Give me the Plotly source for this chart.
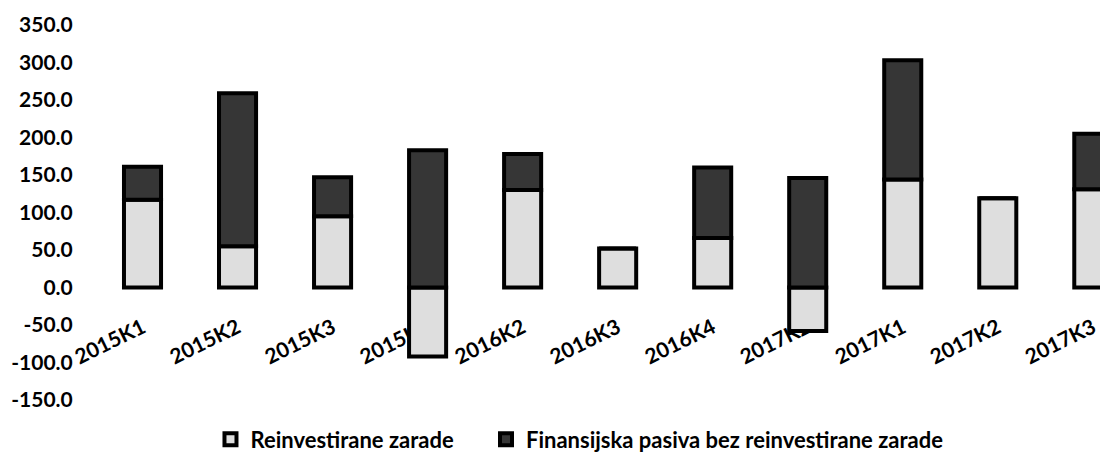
import plotly.graph_objects as go

# kvartali (redosled i oznake kao na originalnom grafikonu)
kvartali = ["2015K1", "2015K2", "2015K3", "2015K4", "2016K2", "2016K3",
            "2016K4", "2017K2", "2017K1", "2017K2", "2017K3"]

# vrednosti procenjene sa slike
reinvestirane_zarade = [117, 55, 95, -92, 130, 52, 66, -58, 144, 119, 131]
finansijska_pasiva = [44, 204, 52, 183, 48, 0, 94, 146, 159, 0, 74]

y_ticks = [350, 300, 250, 200, 150, 100, 50, 0, -50, -100, -150]

FONT = "Lato"
pozicije = list(range(len(kvartali)))

fig = go.Figure()

fig.add_trace(go.Bar(
    x=pozicije,
    y=reinvestirane_zarade,
    name="Reinvestirane zarade",
    marker=dict(color="#dedede", line=dict(color="#000000", width=4)),
    width=0.39,
    legend="legend",
))

fig.add_trace(go.Bar(
    x=pozicije,
    y=finansijska_pasiva,
    name="Finansijska pasiva bez reinvestirane zarade",
    marker=dict(color="#363636", line=dict(color="#000000", width=4)),
    width=0.39,
    legend="legend2",
))

legend_font = dict(family=FONT, size=22, weight="bold", color="#000000")

# stranica ima 8px margine tela, pa su margine figure umanjene za toliko
fig.update_layout(
    barmode="relative",
    width=1108,
    height=461,
    margin=dict(l=87, r=8, t=17, b=69),
    paper_bgcolor="white",
    plot_bgcolor="white",
    font=dict(family=FONT, color="#000000"),
    showlegend=True,
    legend=dict(
        orientation="h",
        x=0.114,
        xanchor="left",
        y=-0.105,
        yanchor="middle",
        font=legend_font,
    ),
    legend2=dict(
        orientation="h",
        x=0.386,
        xanchor="left",
        y=-0.105,
        yanchor="middle",
        font=legend_font,
    ),
)

# osa kategorija postavljena na nulu, oznake ispod stubova
fig.update_xaxes(
    range=[-0.5, 10.16],
    tickvals=pozicije,
    ticktext=kvartali,
    tickangle=-26,
    tickfont=dict(family=FONT, size=21, weight="bold", color="#000000"),
    ticks="outside",
    ticklen=19,
    tickcolor="rgba(0,0,0,0)",
    showgrid=False,
    zeroline=False,
    showline=False,
    anchor="free",
    position=150 / 500,
    layer="below traces",
    automargin=False,
)

fig.update_yaxes(
    range=[-150, 350],
    tickvals=y_ticks,
    ticktext=[f"{v:.1f}" for v in y_ticks],
    tickfont=dict(family=FONT, size=21, weight="bold", color="#000000"),
    ticks="outside",
    ticklen=17,
    tickcolor="rgba(0,0,0,0)",
    showgrid=False,
    zeroline=False,
    showline=False,
    automargin=False,
)

fig.write_html("out.html")
